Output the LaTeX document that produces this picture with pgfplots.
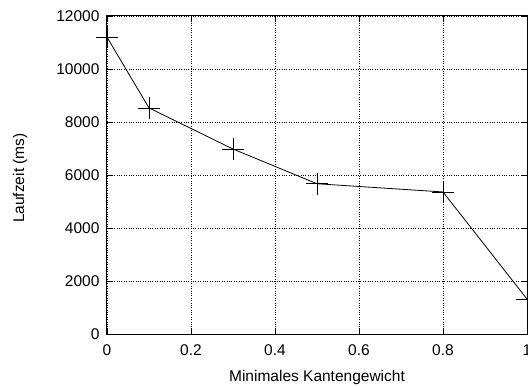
\documentclass[border=0pt]{standalone}
\usepackage{pgfplots}
\pgfplotsset{compat=1.18}
\usepackage{fontspec}
\setmainfont{Liberation Sans}
\begin{document}
\begin{tikzpicture}
\begin{axis}[
  at={(0,0)}, anchor=south west,
  scale only axis,
  width=420bp, height=318bp,
  xmin=0, xmax=1, ymin=0, ymax=12000,
  xtick={0,0.2,0.4,0.6,0.8,1},
  xticklabels={0,0.2,0.4,0.6,0.8,1},
  ytick={0,2000,4000,6000,8000,10000,12000},
  yticklabels={0,2000,4000,6000,8000,10000,12000},
  scaled ticks=false,
  tick align=inside,
  major tick length=6bp,
  tick style={black, line width=0.8bp},
  grid=major,
  grid style={black, dotted, line width=0.7bp},
  axis line style={black, line width=1bp},
  font=\fontsize{15.5bp}{18bp}\selectfont,
  xticklabel style={yshift=-7bp},
  yticklabel style={xshift=-4bp},
  xlabel={Minimales Kantengewicht},
  ylabel={Laufzeit (ms)},
  xlabel style={at={(axis description cs:0.5,-0.138)}, anchor=center},
  ylabel style={at={(axis description cs:-0.207,0.49)}, anchor=center, rotate=0},
]
\addplot[black, line width=0.8bp, mark=+, mark size=11bp, mark options={line width=0.8bp}] coordinates {
  (0,11200) (0.1,8530) (0.3,6980) (0.5,5670) (0.8,5360) (1.0,1320)
};
\end{axis}
\pgfresetboundingbox
\useasboundingbox (-107bp,-53bp) rectangle (421bp,334bp);
\end{tikzpicture}
\end{document}
